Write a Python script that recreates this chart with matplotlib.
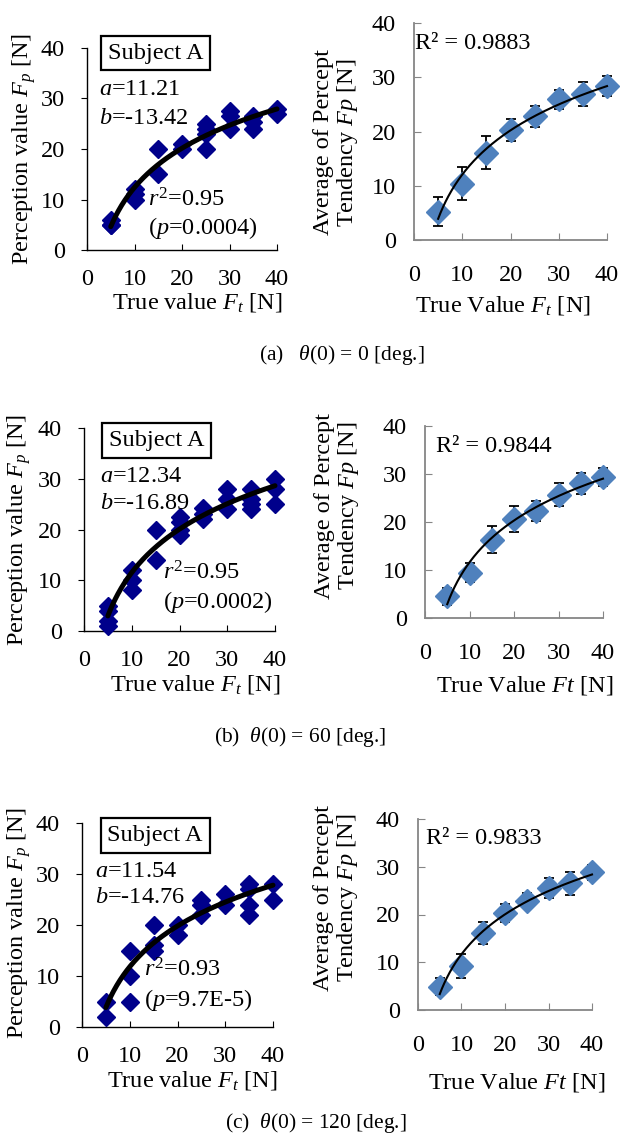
import numpy as np
import matplotlib
matplotlib.use("Agg")
import matplotlib.pyplot as plt

# ==============================
# STYLE
# ==============================
plt.rcParams['font.family'] = ['Liberation Serif', 'DejaVu Serif']
plt.rcParams['mathtext.fontset'] = 'custom'
plt.rcParams['mathtext.rm'] = 'Liberation Serif'
plt.rcParams['mathtext.it'] = 'Liberation Serif:italic'
plt.rcParams['mathtext.bf'] = 'Liberation Serif:bold'

W, H = 624, 1140
FS = 17.5

# ==============================
# DATA
# ==============================
force_levels = [5, 10, 15, 20, 25, 30, 35, 40]

# individual trials, subject A
a_ft = [5, 5, 5, 10, 10, 10, 15, 15, 20, 20, 25, 25, 25, 25, 30, 30, 30, 35, 35, 35, 40, 40]
a_fp = [6, 5, 5, 12, 11, 10, 20, 15, 21, 20, 25, 24, 23, 20, 27.5, 26.5, 24, 26.5, 25.3, 24, 28, 27]

b_ft = [5, 5, 5, 5, 10, 10, 10, 15, 15, 20, 20, 20, 20, 25, 25, 25, 30, 30, 30, 35, 35, 35, 35, 40, 40, 40]
b_fp = [5, 4, 2, 1, 12, 10, 8, 20, 14, 22.4, 21.4, 20, 19, 24.2, 23, 22, 28, 26, 24, 28, 26, 25, 24, 30, 28, 25]

c_ft = [5, 5, 10, 10, 10, 15, 15, 15, 20, 20, 25, 25, 25, 30, 30, 35, 35, 35, 35, 40, 40]
c_fp = [5, 2, 15, 10, 5, 20, 16, 15, 20, 18, 25, 24, 22, 26, 24, 28, 27, 24, 22, 28, 25]

# log fit coefficients Fp = a ln(Ft) + b
fit_a = [11.21, 12.34, 11.54]
fit_b = [-13.42, -16.89, -14.76]
fit_r2 = ["0.95", "0.95", "0.93"]
fit_p = ["0.0004", "0.0002", "9.7E-5"]

# averages over subjects, with error bars
a_mean = [5.2, 10.4, 16.1, 20.3, 22.8, 25.9, 26.9, 28.4]
a_err = [2.7, 3.0, 3.0, 2.0, 1.9, 1.7, 2.2, 1.9]
b_mean = [4.5, 9.4, 16.3, 20.7, 22.3, 25.7, 28.1, 29.4]
b_err = [1.8, 2.0, 2.8, 2.7, 2.0, 2.4, 2.2, 1.9]
c_mean = [4.9, 9.3, 16.2, 20.3, 22.9, 25.5, 26.5, 28.8]
c_err = [1.7, 2.5, 2.3, 1.8, 1.6, 2.1, 2.5, 1.6]
R2_text = ["0.9883", "0.9844", "0.9833"]

captions = [r"(a)   $\theta(0)$ = 0 [deg.]",
            r"(b)  $\theta(0)$ = 60 [deg.]",
            r"(c)  $\theta(0)$ = 120 [deg.]"]
right_xlabels = [r"True Value $F_t$ [N]", r"True Value $Ft$ [N]", r"True Value $Ft$ [N]"]

# ==============================
# LAYOUT (pixels: x0, x1, ytop, ybottom)
# ==============================
left_boxes = [(87, 277, 48, 250), (84, 275, 428, 631), (82, 273, 823, 1027)]
right_boxes = [(414, 607, 23, 240), (425, 603, 426, 618), (418, 592, 819, 1010)]
caption_pos = [(342, 355), (300, 737), (316, 1123)]

# text positions in data units
subj_pos = [(14.4, 39.0), (15.2, 37.5), (15.3, 37.6)]
ab_pos = [(2.5, 31.7, 26.1), (3.3, 30.5, 25.2), (2.7, 30.4, 25.3)]
rp_pos = [(12.8, 9.9, 4.4), (16.5, 11.4, 5.7), (13.0, 11.2, 5.3)]
R2_pos = [(0.3, 36.3), (2.5, 35.8), (1.8, 36.0)]

left_ylab = [(-0.33, 0.5), (-0.34, 0.5), (-0.33, 0.51)]
left_xlab = [(0.58, -0.262), (0.58, -0.266), (0.576, -0.26)]
right_ylab = [(-0.40, 0.45), (-0.49, 0.583), (-0.47, 0.586)]
right_xlab = [(0.459, -0.30), (0.56, -0.35), (0.565, -0.377)]


def px_rect(box):
    x0, x1, yt, yb = box
    return [x0 / W, 1 - yb / H, (x1 - x0) / W, (yb - yt) / H]


fig = plt.figure(figsize=(W / 100, H / 100), dpi=100)

trials = [(a_ft, a_fp), (b_ft, b_fp), (c_ft, c_fp)]
means = [(a_mean, a_err), (b_mean, b_err), (c_mean, c_err)]

for i in range(3):
    # ------------------------------
    # LEFT: individual trials
    # ------------------------------
    ax = fig.add_axes(px_rect(left_boxes[i]))
    ft, fp = trials[i]
    ax.plot(ft, fp, linestyle='none', marker='D', ms=9.5, color='#00008B',
            mec='#00008B', clip_on=False, zorder=3)
    xs = np.linspace(5, 40, 200)
    ax.plot(xs, fit_a[i] * np.log(xs) + fit_b[i], color='black', lw=3.6,
            solid_capstyle='round', zorder=4, clip_on=False)
    ax.set_xlim(0, 40)
    ax.set_ylim(0, 40)
    ax.set_xticks([0, 10, 20, 30, 40])
    ax.set_yticks([0, 10, 20, 30, 40])
    for s in ['top', 'right']:
        ax.spines[s].set_visible(False)
    for s in ['left', 'bottom']:
        ax.spines[s].set_linewidth(1.0)
    ax.tick_params(axis='y', direction='out', length=4, pad=12, labelsize=FS)
    ax.tick_params(axis='x', direction='in', length=4, pad=14, labelsize=FS)
    ax.set_ylabel(r"Perception value $F_p$ [N]", fontsize=FS, va='center')
    ax.yaxis.set_label_coords(*left_ylab[i])
    ax.set_xlabel(r"True value $F_t$ [N]", fontsize=FS, va='center')
    ax.xaxis.set_label_coords(*left_xlab[i])

    ax.text(subj_pos[i][0], subj_pos[i][1], "Subject A", fontsize=FS,
            ha='center', va='center', clip_on=False,
            bbox=dict(boxstyle='square,pad=0.28', fc='white', ec='black', lw=1.6))
    ax.text(ab_pos[i][0], ab_pos[i][1], r"$a$=" + f"{fit_a[i]:.2f}", fontsize=FS,
            ha='left', va='center')
    ax.text(ab_pos[i][0], ab_pos[i][2], r"$b$=" + f"{fit_b[i]:.2f}", fontsize=FS,
            ha='left', va='center')
    ax.text(rp_pos[i][0], rp_pos[i][1], r"$r^2$=" + fit_r2[i], fontsize=FS,
            ha='left', va='center')
    ax.text(rp_pos[i][0], rp_pos[i][2], r"($p$=" + fit_p[i] + ")", fontsize=FS,
            ha='left', va='center')

    # ------------------------------
    # RIGHT: averages with error bars
    # ------------------------------
    ax2 = fig.add_axes(px_rect(right_boxes[i]))
    mu, err = means[i]
    ax2.errorbar(force_levels, mu, yerr=err, fmt='none', ecolor='black',
                 elinewidth=1.3, capsize=3.8, capthick=1.3, zorder=2, clip_on=False)
    ax2.plot(force_levels, mu, linestyle='none', marker='D', ms=12,
             color='#4F81BD', mec='#4F81BD', zorder=3, clip_on=False)
    k, c = np.polyfit(np.log(force_levels), mu, 1)
    ax2.plot(xs, k * np.log(xs) + c, color='black', lw=1.5, zorder=4, clip_on=False)
    ax2.set_xlim(0, 40)
    ax2.set_ylim(0, 40)
    ax2.set_xticks([0, 10, 20, 30, 40])
    ax2.set_yticks([0, 10, 20, 30, 40])
    for s in ['top', 'right']:
        ax2.spines[s].set_visible(False)
    for s in ['left', 'bottom']:
        ax2.spines[s].set_color('#868686')
        ax2.spines[s].set_linewidth(1.3)
    ax2.tick_params(direction='in', length=5, color='#868686', labelsize=FS)
    ax2.tick_params(axis='y', pad=13)
    ax2.tick_params(axis='x', pad=18)
    ax2.set_ylabel("Average of Percept\nTendency $Fp$ [N]", fontsize=FS,
                   va='center', linespacing=1.05)
    ax2.yaxis.set_label_coords(*right_ylab[i])
    ax2.set_xlabel(right_xlabels[i], fontsize=FS, va='center')
    ax2.xaxis.set_label_coords(*right_xlab[i])
    ax2.text(R2_pos[i][0], R2_pos[i][1], "R² = " + R2_text[i], fontsize=FS,
             ha='left', va='center')

    # caption
    fig.text(caption_pos[i][0] / W, 1 - caption_pos[i][1] / H, captions[i],
             fontsize=15.5, ha='center', va='center')

fig.savefig("out.png", dpi=100)
